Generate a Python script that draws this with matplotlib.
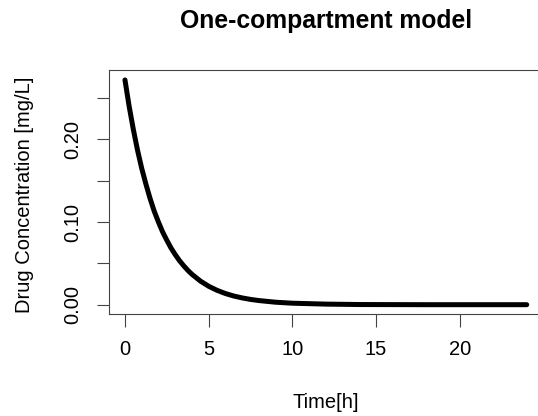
import matplotlib
matplotlib.use("Agg")
import matplotlib.pyplot as plt

# Concentration-time profile (hours, mg/L)
time_h = [0, 0.25, 0.5, 0.75, 1, 1.25, 1.5, 1.75, 2, 2.25, 2.5, 2.75, 3,
          3.25, 3.5, 3.75, 4, 4.5, 5, 5.5, 6, 6.5, 7, 7.5, 8, 9, 10,
          12, 14, 16, 18, 20, 22, 24]
conc_mg_l = [0.272, 0.240, 0.212, 0.187, 0.165, 0.146, 0.1285, 0.113,
             0.100, 0.088, 0.078, 0.0686, 0.0607, 0.0535, 0.0473, 0.0417,
             0.0368, 0.0287, 0.0223, 0.0174, 0.0135, 0.0105, 0.0082, 0.0064,
             0.0050, 0.0030, 0.0018, 0.0007, 0.0002, 0.0001, 0.0, 0.0, 0.0,
             0.0]

x_ticks = [0, 5, 10, 15, 20]
y_ticks = [0.00, 0.05, 0.10, 0.15, 0.20, 0.25]
y_tick_labels = ["0.00", "", "0.10", "", "0.20", ""]

plt.rcParams["font.family"] = ["Liberation Sans", "DejaVu Sans"]

W, H = 538, 416
fig = plt.figure(figsize=(W / 100, H / 100), dpi=100)
left, right, top, bottom = 108.9, 542.8, 70.1, 313.7
ax = fig.add_axes([left / W, 1 - bottom / H, (right - left) / W, (bottom - top) / H])

ax.plot(time_h, conc_mg_l, color="black", lw=3.6, solid_capstyle="round",
        solid_joinstyle="round")

ax.set_xlim(-0.96, 24.96)
ax.set_ylim(-0.0109, 0.2839)

ax.set_xticks(x_ticks)
ax.set_xticklabels([str(v) for v in x_ticks])
ax.set_yticks(y_ticks)
ax.set_yticklabels(y_tick_labels, rotation=90, va="center")

spine_col = "#444444"
for s in ax.spines.values():
    s.set_color(spine_col)
    s.set_linewidth(0.8)
ax.tick_params(axis="both", length=9, width=0.8, color=spine_col,
               labelsize=14.5, labelcolor="black")
ax.tick_params(axis="x", pad=10)
ax.tick_params(axis="y", pad=10)

fig.text((left + right) / 2 / W, 1 - 21 / H, "One-compartment model",
         ha="center", va="center", fontsize=17.8, fontweight="bold")
fig.text((left + right) / 2 / W, 1 - 402 / H, "Time[h]",
         ha="center", va="center", fontsize=14.5)
fig.text(25 / W, 1 - 195 / H, "Drug Concentration [mg/L]",
         ha="center", va="center", rotation=90, fontsize=14.5)

fig.savefig("out.png", dpi=100)
